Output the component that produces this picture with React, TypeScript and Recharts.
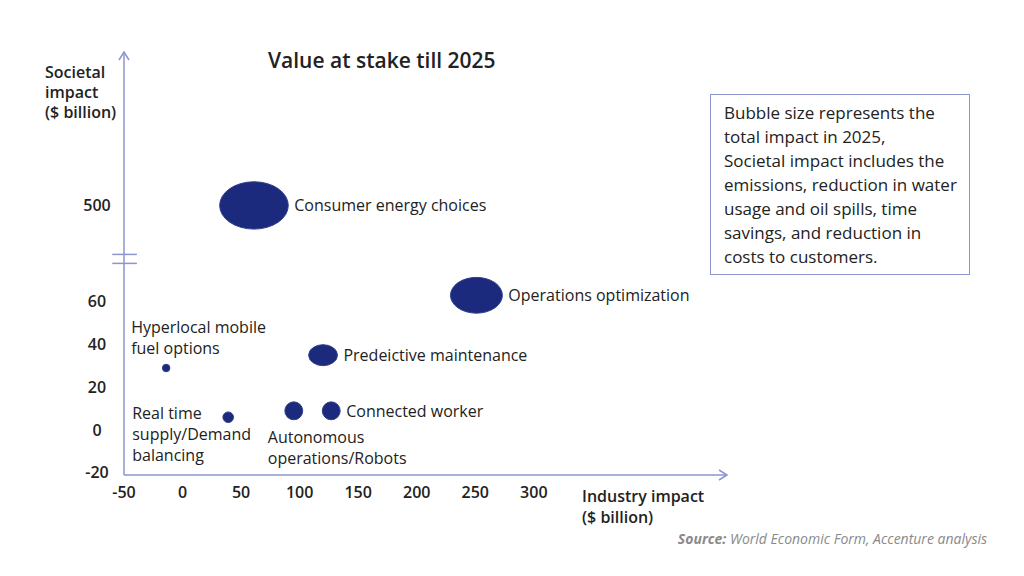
import React from 'react';
import { ScatterChart, Scatter, XAxis, YAxis, ReferenceLine } from 'recharts';

// Value at stake till 2025 ($ billion)
const categories = [
  'Consumer energy choices',
  'Operations optimization',
  'Predeictive maintenance',
  'Connected worker',
  'Autonomous operations/Robots',
  'Real time supply/Demand balancing',
  'Hyperlocal mobile fuel options',
];
const industryImpact = [61, 251, 120, 127, 95, 39, -14];
const societalImpact = [500, 63, 35, 9, 9, 6, 29];
const totalImpact = [560, 320, 110, 80, 80, 28, 14];

const xTicks = [-50, 0, 50, 100, 150, 200, 250, 300];
const yTicks = [-20, 0, 20, 40, 60, 500];

const AXIS = '#8c95cf';
const BUBBLE = '#1b2a7c';
const TEXT = '#222';
const FONT = "'Open Sans', sans-serif";

// broken y axis: everything above the break is squeezed
const BREAK = 80;
const UPPER = 0.0595;
const toAxis = (v: number) => (v <= BREAK ? v : BREAK + (v - BREAK) * UPPER);
const fromAxis = (v: number) => (v <= BREAK ? v : BREAK + (v - BREAK) / UPPER);

// where each bubble's label goes, relative to the bubble
const labelLayout: Record<string, { place: string; lines: string[] }> = {
  'Consumer energy choices': { place: 'right', lines: ['Consumer energy choices'] },
  'Operations optimization': { place: 'right', lines: ['Operations optimization'] },
  'Predeictive maintenance': { place: 'right', lines: ['Predeictive maintenance'] },
  'Connected worker': { place: 'right', lines: ['Connected worker'] },
  'Autonomous operations/Robots': { place: 'below', lines: ['Autonomous', 'operations/Robots'] },
  'Real time supply/Demand balancing': { place: 'left', lines: ['Real time', 'supply/Demand', 'balancing'] },
  'Hyperlocal mobile fuel options': { place: 'above', lines: ['Hyperlocal mobile', 'fuel options'] },
};

const data = categories.map((name, i) => ({
  name,
  x: industryImpact[i],
  y: toAxis(societalImpact[i]),
  total: totalImpact[i],
}));

const Bubble = (props: any) => {
  const { cx, cy, payload } = props;
  const ry = Math.sqrt(payload.total);
  // bigger bubbles are drawn as wide ovals
  const rx = ry * Math.min(1.45, 1 + Math.max(0, ry - 9) * 0.25);
  const layout = labelLayout[payload.name];
  let tx = cx + rx + 6;
  let ty = cy;
  if (layout.place === 'below') {
    tx = cx - 26;
    ty = cy + 26;
  } else if (layout.place === 'left') {
    tx = cx - 96;
    ty = cy - 4;
  } else if (layout.place === 'above') {
    tx = cx - 35;
    ty = cy - 41;
  }
  return (
    <g>
      <ellipse cx={cx} cy={cy} rx={rx} ry={ry} fill={BUBBLE} stroke="#2f3d8c" strokeWidth={1} />
      <text x={tx} y={ty} fontFamily={FONT} fontSize={16} fill={TEXT} dominantBaseline="central">
        {layout.lines.map((line, i) => (
          <tspan key={i} x={tx} dy={i === 0 ? 0 : 21}>
            {line}
          </tspan>
        ))}
      </text>
    </g>
  );
};

const XTick = (props: any) => {
  const { x, y, payload } = props;
  return (
    <text x={x} y={y} dy="0.35em" textAnchor="middle" fontFamily={FONT} fontSize={16} fontWeight={600} fill={TEXT}>
      {payload.value}
    </text>
  );
};

const YTick = (props: any) => {
  const { x, y, payload } = props;
  return (
    <text x={x} y={y} dy="0.35em" textAnchor="middle" fontFamily={FONT} fontSize={16} fontWeight={600} fill={TEXT}>
      {Math.round(fromAxis(payload.value))}
    </text>
  );
};

export default function App() {
  return (
    <div style={{ position: 'absolute', left: 0, top: 0, width: 1024, height: 576, background: '#fff', fontFamily: FONT, color: TEXT }}>
      <ScatterChart width={1024} height={576} margin={{ top: 52, right: 297, bottom: 71, left: 84 }}>
        <defs>
          <marker id="arrow" viewBox="0 0 10 12" refX={9} refY={6} markerWidth={10} markerHeight={12} markerUnits="userSpaceOnUse" orient="auto-start-reverse">
            <path d="M1,1 L9,6 L1,11" fill="none" stroke={AXIS} strokeWidth={1.5} />
          </marker>
        </defs>
        <XAxis
          type="number"
          dataKey="x"
          domain={[-50, 465]}
          ticks={xTicks}
          interval={0}
          height={30}
          tickLine={false}
          tickSize={0}
          tickMargin={17}
          tick={<XTick />}
          axisLine={{ stroke: AXIS, strokeWidth: 1.5, markerEnd: 'url(#arrow)' }}
        />
        <YAxis
          type="number"
          dataKey="y"
          domain={[-21, 176.7]}
          ticks={yTicks.map(toAxis)}
          interval={0}
          width={40}
          tickLine={false}
          tickSize={0}
          tickMargin={27}
          tick={<YTick />}
          axisLine={{ stroke: AXIS, strokeWidth: 1.5, markerStart: 'url(#arrow)' }}
        />
        <ReferenceLine
          segment={[{ x: -60, y: BREAK + 2.1 }, { x: -39, y: BREAK + 2.1 }]}
          stroke={AXIS}
          strokeWidth={1.5}
          ifOverflow="visible"
        />
        <ReferenceLine
          segment={[{ x: -60, y: BREAK - 2.1 }, { x: -39, y: BREAK - 2.1 }]}
          stroke={AXIS}
          strokeWidth={1.5}
          ifOverflow="visible"
        />
        <Scatter data={data} shape={<Bubble />} isAnimationActive={false} />
      </ScatterChart>

      <div style={{ position: 'absolute', left: 268, top: 46, fontSize: 21, fontWeight: 600, whiteSpace: 'nowrap' }}>
        Value at stake till 2025
      </div>
      <div style={{ position: 'absolute', left: 45, top: 62, fontSize: 16, fontWeight: 600, lineHeight: '20px' }}>
        Societal
        <br />
        impact
        <br />
        ($ billion)
      </div>
      <div style={{ position: 'absolute', left: 582, top: 486, fontSize: 16, fontWeight: 600, lineHeight: '21px' }}>
        Industry impact
        <br />
        ($ billion)
      </div>
      <div
        style={{
          position: 'absolute',
          left: 710,
          top: 94,
          width: 260,
          height: 181,
          boxSizing: 'border-box',
          border: `1.5px solid ${AXIS}`,
          padding: '6px 0 0 13px',
          fontSize: 17,
          lineHeight: '24px',
        }}
      >
        Bubble size represents the
        <br />
        total impact in 2025,
        <br />
        Societal impact includes the
        <br />
        emissions, reduction in water
        <br />
        usage and oil spills, time
        <br />
        savings, and reduction in
        <br />
        costs to customers.
      </div>
      <div style={{ position: 'absolute', right: 37, top: 529, fontSize: 14, fontStyle: 'italic', color: '#8a8a8a', whiteSpace: 'nowrap' }}>
        <b>Source:</b> World Economic Form, Accenture analysis
      </div>
    </div>
  );
}
